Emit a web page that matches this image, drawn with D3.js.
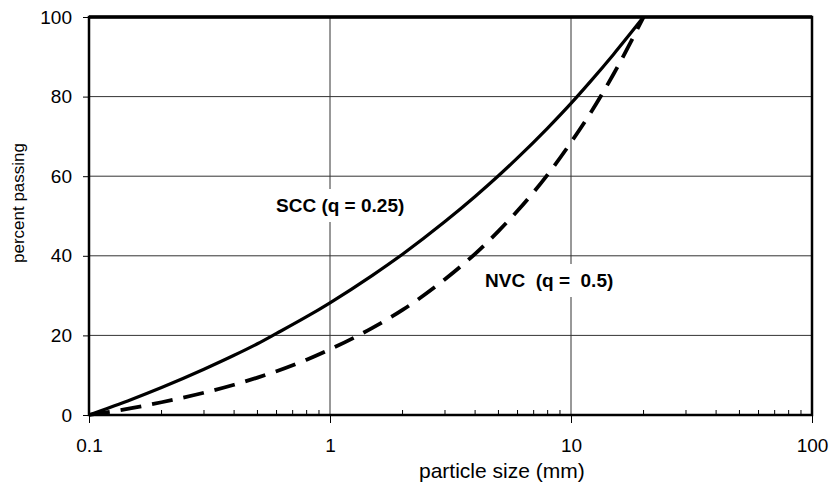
<!DOCTYPE html>
<html>
<head>
<meta charset="utf-8">
<script src="https://cdn.jsdelivr.net/npm/d3@7"></script>
<style>
    body { margin: 0; background: #fff; }
    text { font-family: "Liberation Sans", Arial, sans-serif; fill: #000; }
</style>
</head>
<body>
<div id="chart"></div>
<script>
// particle size (mm) at which the curves were read
const sizes = [0.1, 0.15, 0.2, 0.3, 0.4, 0.5, 0.6, 0.8, 1, 1.5, 2, 3, 4, 5, 6, 8, 10, 12, 15, 20];
// percent passing, SCC (q = 0.25)
const sccPassing = [0, 3.9, 6.9, 11.5, 15.0, 17.9, 20.5, 24.7, 28.2, 35.1, 40.4, 48.6, 54.9, 60.1, 64.6, 72.1, 78.3, 83.7, 90.6, 100];
// percent passing, NVC (q = 0.5)
const nvcPassing = [0, 1.7, 3.2, 5.6, 7.6, 9.4, 11.0, 13.9, 16.5, 21.9, 26.4, 34.1, 40.5, 46.2, 51.3, 60.4, 68.5, 75.7, 85.6, 100];

const xTicks = [0.1, 1, 10, 100];
const xTickLabels = ["0.1", "1", "10", "100"];
const yTicks = [0, 20, 40, 60, 80, 100];

const width = 834;
const height = 492;
const margin = ({top: 17, right: 22, bottom: 77, left: 89});

const x = d3.scaleLog()
    .domain([0.1, 100])
    .range([margin.left, width - margin.right]);

const y = d3.scaleLinear()
    .domain([0, 100])
    .range([height - margin.bottom, margin.top]);

const svg = d3.select("#chart")
    .append("svg")
    .attr("width", width)
    .attr("height", height);

// horizontal gridlines
svg.append("g")
    .selectAll("line")
    .data(yTicks.slice(1, -1))
    .join("line")
    .attr("x1", x(0.1)).attr("x2", x(100))
    .attr("y1", d => y(d)).attr("y2", d => y(d))
    .attr("stroke", "#333")
    .attr("stroke-width", 1);

// vertical gridlines at the inner decades
svg.append("g")
    .selectAll("line")
    .data(xTicks.slice(1, -1))
    .join("line")
    .attr("x1", d => x(d)).attr("x2", d => x(d))
    .attr("y1", y(0)).attr("y2", y(100))
    .attr("stroke", "#333")
    .attr("stroke-width", 1);

// minor ticks, pointing into the plot
const minor = x.ticks().filter(d => !xTicks.includes(d));
svg.append("g")
    .selectAll("line")
    .data(minor)
    .join("line")
    .attr("x1", d => x(d)).attr("x2", d => x(d))
    .attr("y1", y(0)).attr("y2", y(0) - 5)
    .attr("stroke", "#000")
    .attr("stroke-width", 1);

// x axis, major ticks below
svg.append("g")
    .attr("transform", `translate(0,${y(0)})`)
    .call(d3.axisBottom(x)
        .tickValues(xTicks)
        .tickFormat((d, i) => xTickLabels[i])
        .tickSize(8)
        .tickPadding(16))
    .call(g => g.select(".domain").remove())
    .call(g => g.selectAll("line").attr("stroke", "#000"))
    .call(g => g.selectAll("text").attr("font-size", "19px").attr("font-family", null));

// y axis
svg.append("g")
    .attr("transform", `translate(${x(0.1)},0)`)
    .call(d3.axisLeft(y)
        .tickValues(yTicks)
        .tickSize(6)
        .tickPadding(11))
    .call(g => g.select(".domain").remove())
    .call(g => g.selectAll("line").attr("stroke", "#000"))
    .call(g => g.selectAll("text").attr("font-size", "19px").attr("font-family", null));

// plot frame
svg.append("rect")
    .attr("x", x(0.1)).attr("y", y(100))
    .attr("width", x(100) - x(0.1))
    .attr("height", y(0) - y(100))
    .attr("fill", "none")
    .attr("stroke", "#000")
    .attr("stroke-width", 2.5);
svg.append("line")
    .attr("x1", x(0.1)).attr("x2", x(100))
    .attr("y1", y(100)).attr("y2", y(100))
    .attr("stroke", "#000")
    .attr("stroke-width", 3.5);

const line = d3.line()
    .x(d => x(d[0]))
    .y(d => y(d[1]))
    .curve(d3.curveMonotoneX);

svg.append("path")
    .attr("d", line(d3.zip(sizes, sccPassing)))
    .attr("fill", "none")
    .attr("stroke", "#000")
    .attr("stroke-width", 3.2);

svg.append("path")
    .attr("d", line(d3.zip(sizes, nvcPassing)))
    .attr("fill", "none")
    .attr("stroke", "#000")
    .attr("stroke-width", 3.8)
    .attr("stroke-dasharray", "21,11");

// curve labels on white boxes
function addLabel(txt, lx, ly) {
    const g = svg.append("g");
    const t = g.append("text")
        .attr("x", lx).attr("y", ly)
        .attr("font-size", "19px")
        .attr("font-weight", "bold")
        .style("white-space", "pre")
        .text(txt);
    const b = t.node().getBBox();
    g.insert("rect", "text")
        .attr("x", b.x - 6).attr("y", b.y - 6)
        .attr("width", b.width + 12).attr("height", b.height + 12)
        .attr("fill", "#fff");
}
addLabel("SCC (q = 0.25)", 276, 212);
addLabel("NVC  (q =  0.5)", 485, 287);

// axis titles
svg.append("text")
    .attr("x", 419)
    .attr("y", 478)
    .attr("font-size", "21px")
    .text("particle size (mm)");

svg.append("text")
    .attr("transform", `translate(24,203) rotate(-90)`)
    .attr("text-anchor", "middle")
    .attr("font-size", "17px")
    .text("percent passing");
</script>
</body>
</html>
